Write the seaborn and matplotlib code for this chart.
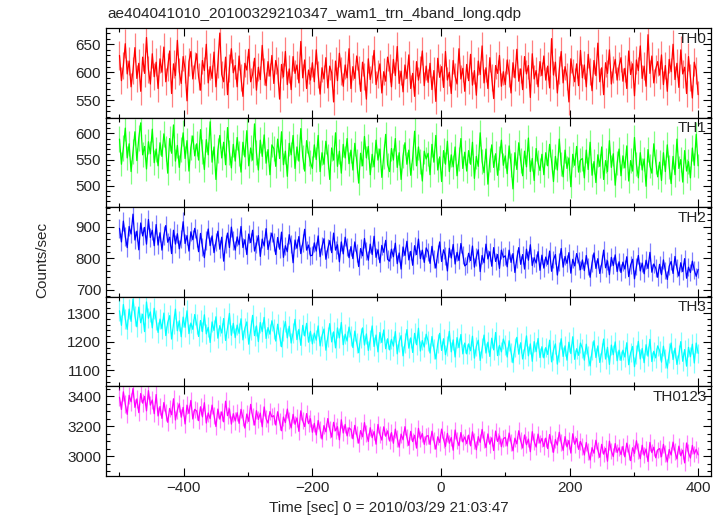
import numpy as np
import pandas as pd
import matplotlib
matplotlib.use("Agg")
import matplotlib.pyplot as plt
import seaborn as sns
from matplotlib.ticker import MultipleLocator

# time bins (sec, 0 = 2010/03/29 21:03:47)
t_start, t_stop, t_step = -500, 400, 3
time = np.arange(t_start, t_stop + t_step, t_step)

th0 = [630, 585, 612, 651, 597, 620, 574, 603, 644, 589, 616, 566, 627, 598, 662, 605, 579, 633, 592, 618,
       571, 624, 600, 645, 583, 609, 638, 562, 615, 594, 657, 601, 580, 628, 606, 549, 619, 637, 588, 612,
       633, 592, 568, 621, 603, 650, 581, 610, 589, 636, 574, 615, 670, 596, 583, 627, 560, 608, 642, 599,
       612, 574, 629, 590, 557, 616, 604, 641, 583, 596, 625, 568, 609, 587, 648, 601, 576, 619, 593, 630,
       580, 621, 603, 552, 614, 592, 637, 578, 606, 569, 628, 598, 613, 581, 655, 590, 622, 571, 604, 586,
       617, 583, 640, 596, 561, 608, 588, 626, 572, 611, 599, 547, 620, 585, 634, 602, 575, 613, 590, 642,
       571, 610, 589, 629, 604, 566, 618, 593, 552, 624, 587, 606, 639, 578, 597, 615, 563, 601, 584, 627,
       608, 574, 623, 594, 646, 580, 602, 565, 613, 589, 631, 571, 598, 557, 619, 586, 605, 638, 576, 611,
       582, 616, 569, 603, 548, 625, 591, 610, 573, 637, 586, 600, 562, 621, 593, 579, 642, 588, 607, 566,
       614, 585, 632, 577, 603, 559, 620, 596, 647, 581, 608, 571, 626, 590, 553, 612, 598, 630, 575, 601,
       578, 622, 599, 563, 617, 590, 641, 584, 606, 569, 628, 597, 612, 555, 633, 588, 603, 574, 619, 594,
       629, 586, 611, 572, 660, 595, 618, 563, 604, 637, 581, 610, 592, 547, 624, 600, 583, 615, 576, 639,
       590, 613, 574, 632, 601, 567, 621, 594, 652, 583, 608, 560, 617, 598, 640, 579, 605, 623, 586, 611,
       626, 584, 607, 571, 638, 596, 615, 558, 622, 603, 647, 589, 611, 575, 667, 598, 629, 581, 606, 619,
       595, 631, 578, 612, 566, 623, 601, 650, 587, 616, 573, 640, 597, 609, 562, 628, 590, 554, 618, 603,
       560]

th1 = [589, 541, 572, 610, 553, 580, 527, 566, 603, 548, 591, 620, 559, 575, 532, 584, 561, 608, 544, 570,
       538, 582, 556, 599, 571, 524, 590, 562, 616, 547, 577, 535, 569, 601, 552, 586, 528, 573, 595, 557,
       580, 549, 607, 566, 531, 588, 559, 622, 545, 574, 512, 568, 596, 553, 583, 540, 611, 564, 534, 579,
       547, 592, 561, 526, 583, 555, 605, 538, 572, 549, 618, 563, 530, 587, 556, 597, 543, 569, 521, 578,
       571, 537, 589, 552, 603, 540, 566, 518, 581, 559, 596, 533, 574, 547, 609, 555, 528, 586, 562, 545,
       533, 578, 550, 596, 527, 563, 541, 585, 556, 512, 572, 549, 601, 537, 566, 524, 579, 553, 590, 542,
       568, 530, 581, 547, 505, 562, 538, 594, 553, 575, 521, 560, 536, 587, 549, 570, 516, 556, 598, 540,
       527, 571, 549, 590, 535, 563, 512, 557, 582, 541, 568, 520, 553, 604, 538, 574, 546, 509, 566, 551,
       562, 521, 579, 545, 596, 530, 555, 508, 567, 541, 585, 527, 559, 536, 574, 519, 551, 590, 533, 564,
       528, 567, 541, 583, 514, 556, 537, 601, 546, 525, 570, 503, 549, 578, 535, 561, 520, 553, 587, 539,
       557, 523, 576, 540, 494, 563, 531, 582, 548, 519, 566, 536, 591, 527, 552, 510, 571, 544, 529, 560,
       521, 563, 538, 579, 547, 508, 556, 530, 589, 541, 517, 568, 533, 553, 498, 560, 539, 575, 526, 549,
       552, 515, 568, 531, 583, 520, 546, 506, 559, 537, 574, 512, 548, 527, 586, 535, 561, 501, 543, 570,
       519, 557, 534, 576, 509, 548, 528, 592, 541, 515, 563, 530, 551, 499, 569, 538, 524, 580, 546, 517,
       545, 510, 563, 527, 578, 536, 504, 556, 521, 589, 533, 550, 507, 567, 528, 546, 515, 572, 539, 598,
       538]

th2 = [895, 852, 918, 869, 834, 901, 877, 940, 858, 886, 827, 912, 871, 898, 845, 923, 866, 889, 840, 907,
       842, 881, 826, 873, 904, 851, 867, 815, 889, 845, 878, 830, 861, 916, 847, 872, 823, 884, 859, 895,
       864, 821, 879, 836, 802, 857, 893, 840, 871, 818, 852, 886, 829, 867, 791, 845, 880, 834, 899, 856,
       826, 868, 843, 901, 834, 859, 812, 877, 850, 889, 823, 845, 872, 806, 861, 839, 894, 828, 855, 880,
       851, 812, 866, 829, 883, 803, 840, 821, 875, 846, 786, 858, 832, 869, 815, 848, 892, 826, 842, 808,
       810, 849, 823, 871, 805, 838, 862, 797, 831, 856, 818, 880, 826, 843, 789, 852, 814, 867, 835, 802,
       837, 799, 852, 816, 774, 831, 808, 863, 822, 794, 845, 812, 870, 803, 827, 786, 841, 819, 857, 797,
       791, 829, 805, 848, 783, 817, 766, 836, 809, 854, 795, 822, 778, 840, 812, 861, 799, 826, 787, 833,
       820, 784, 838, 797, 769, 815, 852, 790, 827, 808, 760, 832, 801, 844, 782, 819, 793, 847, 811, 776,
       781, 816, 793, 839, 772, 804, 827, 758, 809, 786, 845, 798, 821, 775, 834, 790, 812, 768, 826, 803,
       808, 773, 826, 787, 815, 755, 799, 834, 781, 812, 766, 829, 794, 843, 777, 802, 785, 821, 762, 810,
       769, 804, 781, 823, 759, 796, 812, 747, 789, 831, 772, 806, 784, 818, 753, 797, 776, 815, 791, 764,
       795, 761, 809, 774, 740, 786, 817, 768, 799, 752, 783, 826, 770, 792, 748, 803, 777, 811, 758, 789,
       755, 788, 766, 805, 742, 779, 797, 735, 774, 809, 760, 785, 751, 794, 768, 819, 756, 782, 769, 740,
       781, 748, 795, 761, 733, 775, 790, 752, 806, 769, 744, 786, 758, 799, 737, 772, 755, 791, 763, 743,
       765]

th3 = [1309, 1258, 1331, 1280, 1244, 1315, 1272, 1350, 1291, 1253, 1322, 1267, 1297, 1236, 1340, 1283, 1305, 1249, 1318, 1276,
       1233, 1280, 1246, 1301, 1222, 1268, 1292, 1210, 1263, 1315, 1239, 1274, 1218, 1287, 1251, 1309, 1229, 1266, 1244, 1296,
       1262, 1219, 1275, 1236, 1295, 1228, 1251, 1198, 1270, 1240, 1288, 1213, 1257, 1231, 1282, 1205, 1249, 1300, 1223, 1265,
       1215, 1259, 1230, 1281, 1207, 1248, 1270, 1192, 1241, 1293, 1222, 1256, 1201, 1268, 1236, 1286, 1212, 1250, 1227, 1274,
       1246, 1203, 1262, 1219, 1183, 1240, 1271, 1214, 1255, 1196, 1232, 1279, 1208, 1244, 1188, 1258, 1221, 1265, 1199, 1237,
       1193, 1231, 1206, 1256, 1186, 1222, 1245, 1171, 1218, 1264, 1200, 1235, 1179, 1249, 1214, 1268, 1190, 1227, 1203, 1252,
       1221, 1180, 1238, 1196, 1162, 1215, 1249, 1189, 1228, 1170, 1207, 1256, 1184, 1224, 1165, 1233, 1198, 1242, 1176, 1211,
       1172, 1209, 1185, 1236, 1158, 1201, 1222, 1151, 1195, 1243, 1178, 1214, 1163, 1230, 1190, 1248, 1168, 1205, 1182, 1227,
       1203, 1161, 1219, 1176, 1140, 1194, 1230, 1170, 1211, 1155, 1186, 1237, 1165, 1207, 1147, 1215, 1180, 1226, 1158, 1196,
       1158, 1193, 1169, 1220, 1143, 1184, 1206, 1135, 1178, 1224, 1161, 1199, 1149, 1213, 1172, 1233, 1152, 1188, 1165, 1210,
       1189, 1147, 1204, 1163, 1127, 1180, 1216, 1157, 1197, 1140, 1174, 1221, 1151, 1193, 1132, 1201, 1166, 1212, 1145, 1183,
       1144, 1180, 1156, 1206, 1130, 1171, 1193, 1122, 1165, 1211, 1149, 1186, 1136, 1199, 1159, 1218, 1139, 1176, 1153, 1196,
       1177, 1136, 1192, 1151, 1116, 1169, 1204, 1145, 1186, 1128, 1163, 1210, 1140, 1181, 1121, 1189, 1155, 1200, 1134, 1171,
       1135, 1171, 1147, 1197, 1120, 1162, 1184, 1113, 1156, 1202, 1140, 1177, 1127, 1190, 1150, 1209, 1131, 1167, 1144, 1186,
       1170, 1129, 1185, 1143, 1108, 1161, 1196, 1138, 1178, 1121, 1155, 1201, 1132, 1173, 1115, 1181, 1148, 1192, 1126, 1196,
       1160]

th0123 = [3392, 3311, 3428, 3346, 3279, 3405, 3362, 3450, 3325, 3381, 3290, 3417, 3353, 3398, 3302, 3436, 3340, 3374, 3283, 3410,
          3268, 3331, 3252, 3357, 3290, 3226, 3318, 3276, 3382, 3241, 3306, 3349, 3260, 3325, 3215, 3340, 3285, 3371, 3248, 3312,
          3301, 3237, 3329, 3262, 3356, 3221, 3288, 3250, 3340, 3273, 3198, 3314, 3247, 3295, 3229, 3366, 3270, 3315, 3214, 3283,
          3235, 3290, 3219, 3312, 3256, 3188, 3281, 3232, 3345, 3266, 3208, 3303, 3245, 3287, 3196, 3328, 3250, 3221, 3297, 3262,
          3270, 3208, 3296, 3229, 3170, 3261, 3224, 3314, 3240, 3189, 3279, 3213, 3255, 3166, 3302, 3236, 3198, 3284, 3217, 3250,
          3160, 3219, 3142, 3238, 3176, 3115, 3204, 3163, 3251, 3181, 3128, 3226, 3170, 3197, 3110, 3243, 3155, 3212, 3136, 3190,
          3178, 3117, 3206, 3143, 3088, 3171, 3130, 3224, 3152, 3099, 3190, 3124, 3165, 3081, 3212, 3146, 3108, 3196, 3134, 3169,
          3102, 3158, 3087, 3181, 3119, 3061, 3148, 3110, 3197, 3126, 3073, 3166, 3098, 3140, 3055, 3186, 3115, 3152, 3080, 3133,
          3138, 3079, 3167, 3104, 3048, 3130, 3092, 3181, 3114, 3066, 3153, 3087, 3125, 3041, 3175, 3108, 3071, 3158, 3096, 3129,
          3085, 3141, 3070, 3163, 3102, 3044, 3131, 3093, 3179, 3110, 3058, 3149, 3081, 3123, 3039, 3168, 3099, 3136, 3064, 3117,
          3126, 3069, 3155, 3094, 3037, 3121, 3083, 3170, 3104, 3056, 3142, 3077, 3115, 3031, 3164, 3098, 3062, 3148, 3088, 3119,
          3066, 3121, 3052, 3145, 3084, 3027, 3112, 3075, 3160, 3092, 3040, 3131, 3063, 3105, 3022, 3150, 3081, 3118, 3047, 3099,
          3064, 3009, 3092, 3031, 2976, 3058, 3021, 3107, 3042, 2994, 3080, 3015, 3053, 2968, 3101, 3036, 2999, 3085, 3026, 3057,
          3012, 3066, 2997, 3088, 3029, 2972, 3057, 3020, 3104, 3037, 2985, 3074, 3008, 3049, 2966, 3093, 3025, 3061, 2991, 3043,
          3052, 2998, 3080, 3021, 2963, 3046, 3009, 3095, 3031, 2983, 3068, 3004, 3041, 2957, 3089, 3024, 2989, 3073, 3016, 3047,
          3010]

bands = ["TH0", "TH1", "TH2", "TH3", "TH0123"]
series = [th0, th1, th2, th3, th0123]

sns.set_theme(style="ticks")
plt.rcParams['font.family'] = ['Liberation Sans', 'DejaVu Sans']

colors = ["#ff0000", "#00ff00", "#0000ff", "#00ffff", "#ff00ff"]
ylims = [(519, 679), (459, 630), (678, 962), (1044, 1358), (2870, 3464)]
ymajor = [50, 50, 100, 100, 200]
yminor = [10, 10, 20, 20, 50]

fig, axes = plt.subplots(5, 1, figsize=(7.23, 5.16), dpi=100, sharex=True)
fig.subplots_adjust(left=0.1466, right=0.9834, top=0.9457, bottom=0.0775, hspace=0)

for i, ax in enumerate(axes):
    df = pd.DataFrame({'time': time, 'rate': series[i]})
    err = np.sqrt(df['rate'])
    # light error bars behind the light curve
    ax.vlines(df['time'], df['rate'] - err, df['rate'] + err,
              color=colors[i], alpha=0.5, linewidth=0.9)
    sns.lineplot(data=df, x='time', y='rate', ax=ax, color=colors[i],
                 linewidth=0.9, estimator=None, sort=False)
    ax.set_ylim(*ylims[i])
    ax.set_xlim(-521, 420)
    ax.set_xlabel('')
    ax.set_ylabel('')
    ax.yaxis.set_major_locator(MultipleLocator(ymajor[i]))
    ax.yaxis.set_minor_locator(MultipleLocator(yminor[i]))
    ax.xaxis.set_major_locator(MultipleLocator(200))
    ax.xaxis.set_minor_locator(MultipleLocator(100))
    ax.tick_params(which='both', top=True, right=True, direction='in',
                   labelsize=11, color='black', width=0.8)
    ax.tick_params(which='major', length=6)
    ax.tick_params(which='minor', length=3)
    for s in ax.spines.values():
        s.set_color('black')
        s.set_linewidth(0.9)
    ax.text(0.993, 0.96, bands[i], transform=ax.transAxes,
            ha='right', va='top', fontsize=11)

fig.text(0.148, 0.973, "ae404041010_20100329210347_wam1_trn_4band_long.qdp",
         ha='left', va='center', fontsize=11)
fig.text(0.058, 0.496, "Counts/sec", rotation=90, ha='center', va='center', fontsize=11)
fig.text(0.538, 0.016, "Time [sec] 0 = 2010/03/29 21:03:47", ha='center', va='center', fontsize=11)

fig.savefig('out.png', dpi=100)
